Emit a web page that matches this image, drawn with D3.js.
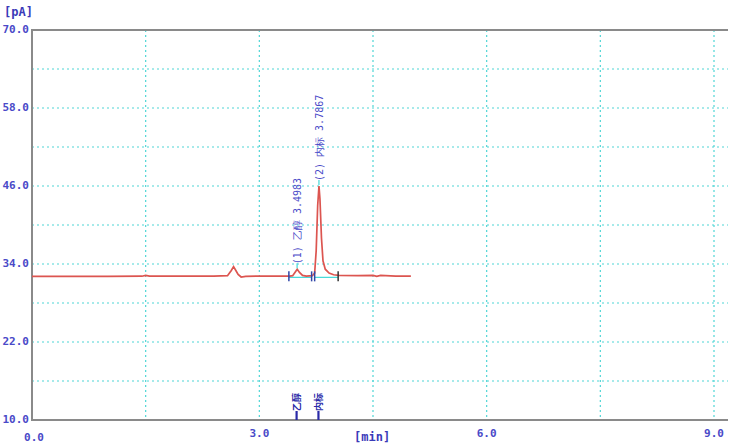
<!DOCTYPE html>
<html><head><meta charset="utf-8">
<script src="https://cdn.jsdelivr.net/npm/d3@7"></script>
<style>html,body{margin:0;padding:0;background:#fff;}svg{display:block;}</style>
</head><body>
<svg id="c" width="738" height="447"></svg>
<script>
const times  = [0,0.5,1.0,1.45,1.5,1.55,2.0,2.4,2.58,2.63,2.66,2.69,2.72,2.76,2.82,3.0,3.4,3.44,3.47,3.50,3.53,3.57,3.62,3.70,3.73,3.75,3.77,3.787,3.80,3.82,3.84,3.87,3.92,3.98,4.05,4.3,4.5,4.55,4.6,4.8,5.0];
const signal = [32.1,32.1,32.1,32.12,32.25,32.15,32.15,32.15,32.2,33.0,33.6,33.0,32.4,32.0,32.1,32.15,32.15,32.2,32.7,33.2,32.7,32.25,32.15,32.2,32.6,36,43,46.0,44,38,34.5,33.2,32.6,32.35,32.25,32.2,32.25,32.1,32.25,32.15,32.15];
const peakNames = ["乙醇","内标"];
const peakLabels = ["(1) 乙醇 3.4983","(2) 内标 3.7867"];
const peakTimes = [3.4983,3.7867];
const peakHeights = [33.2,46.0];
const peakStarts = [3.39,3.73];
const peakEnds = [3.69,4.04];
const baseLevel = [32.1,32.1];
const xTicks = [0,3,6,9];
const yTicks = [10,22,34,46,58,70];
const xGrid = [1.5,3,4.5,6,7.5,9];
const yGrid = [16,22,28,34,40,46,52,58,64];

const svg = d3.select("#c");
const L=32,R=728,T=30,B=420;
const x = d3.scaleLinear().domain([0,9]).range([L,714]);
const y = d3.scaleLinear().domain([10,70]).range([B,T]);
const blue="#4a4ac8", grid="#4fd6d6";
const mono="'DejaVu Sans Mono', monospace";

// grid
svg.append("g").selectAll("line").data(yGrid).join("line")
  .attr("x1",L).attr("x2",R).attr("y1",d=>y(d)).attr("y2",d=>y(d))
  .attr("stroke",grid).attr("stroke-width",1.2).attr("stroke-dasharray","2,3");
svg.append("g").selectAll("line").data(xGrid).join("line")
  .attr("x1",d=>x(d)).attr("x2",d=>x(d)).attr("y1",T).attr("y2",B)
  .attr("stroke",grid).attr("stroke-width",1.2).attr("stroke-dasharray","2,3");

// frame
svg.append("path").attr("d",`M${R},${T}H${L}V${B}H${R}`)
  .attr("fill","none").attr("stroke","#8a8a8a").attr("stroke-width",2);

// tick labels
svg.append("g").selectAll("text").data(yTicks).join("text")
  .attr("x",L-3).attr("y",d=>y(d)+3).attr("text-anchor","end")
  .attr("font-family",mono).attr("font-size",11).attr("font-weight","bold").attr("fill",blue)
  .text(d=>d.toFixed(1));
svg.append("g").selectAll("text").data(xTicks).join("text")
  .attr("x",d=>x(d)+(d===0?2:0)).attr("y",d=>d===0?441:437).attr("text-anchor","middle")
  .attr("font-family",mono).attr("font-size",11).attr("font-weight","bold").attr("fill",blue)
  .text(d=>d.toFixed(1));
svg.append("text").attr("x",4).attr("y",16).attr("font-family",mono).attr("font-size",12)
  .attr("font-weight","bold").attr("fill","#3a3ab8").text("[pA]");
svg.append("text").attr("x",354).attr("y",441).attr("font-family",mono).attr("font-size",12)
  .attr("font-weight","bold").attr("fill","#3a3ab8").text("[min]");

// integration baselines
peakStarts.forEach((s,i)=>{
  svg.append("line").attr("x1",x(s)).attr("x2",x(peakEnds[i])).attr("y1",y(baseLevel[i])+1).attr("y2",y(baseLevel[i])+1)
    .attr("stroke","#40d8d8").attr("stroke-width",1.2);
});

// signal
const pts = times.map((t,i)=>[t,signal[i]]);
svg.append("path").datum(pts)
  .attr("d",d3.line().x(d=>x(d[0])).y(d=>y(d[1])))
  .attr("fill","none").attr("stroke","#dc5550").attr("stroke-width",1.7);

// integration marks
peakStarts.forEach((s,i)=>{
  [s,peakEnds[i]].forEach((t,j)=>{
    svg.append("line").attr("x1",x(t)).attr("x2",x(t)).attr("y1",y(baseLevel[i])-5).attr("y2",y(baseLevel[i])+5)
      .attr("stroke",(i===1&&j===1)?"#333":"#3046a8").attr("stroke-width",1.5);
  });
});

// peak annotations
peakTimes.forEach((t,i)=>{
  const px=x(t), py=y(peakHeights[i]);
  svg.append("line").attr("x1",px).attr("x2",px).attr("y1",py-1).attr("y2",py-6)
    .attr("stroke","#40d8d8").attr("stroke-width",1.2);
  svg.append("text").attr("transform",`translate(${px+4},${py-5}) rotate(-90)`)
    .attr("font-family",mono).attr("font-size",10).attr("fill",blue).text(peakLabels[i]);
  // bottom markers
  svg.append("line").attr("x1",px-0.5).attr("x2",px-0.5).attr("y1",411).attr("y2",B)
    .attr("stroke","#2a2aa8").attr("stroke-width",2.2);
  svg.append("text").attr("transform",`translate(${px+3},${411}) rotate(-90)`)
    .attr("font-family","'Noto Sans CJK SC'").attr("font-size",9).attr("font-weight","bold").attr("fill","#2a2aa8").text(peakNames[i]);
});
</script>
</body></html>
